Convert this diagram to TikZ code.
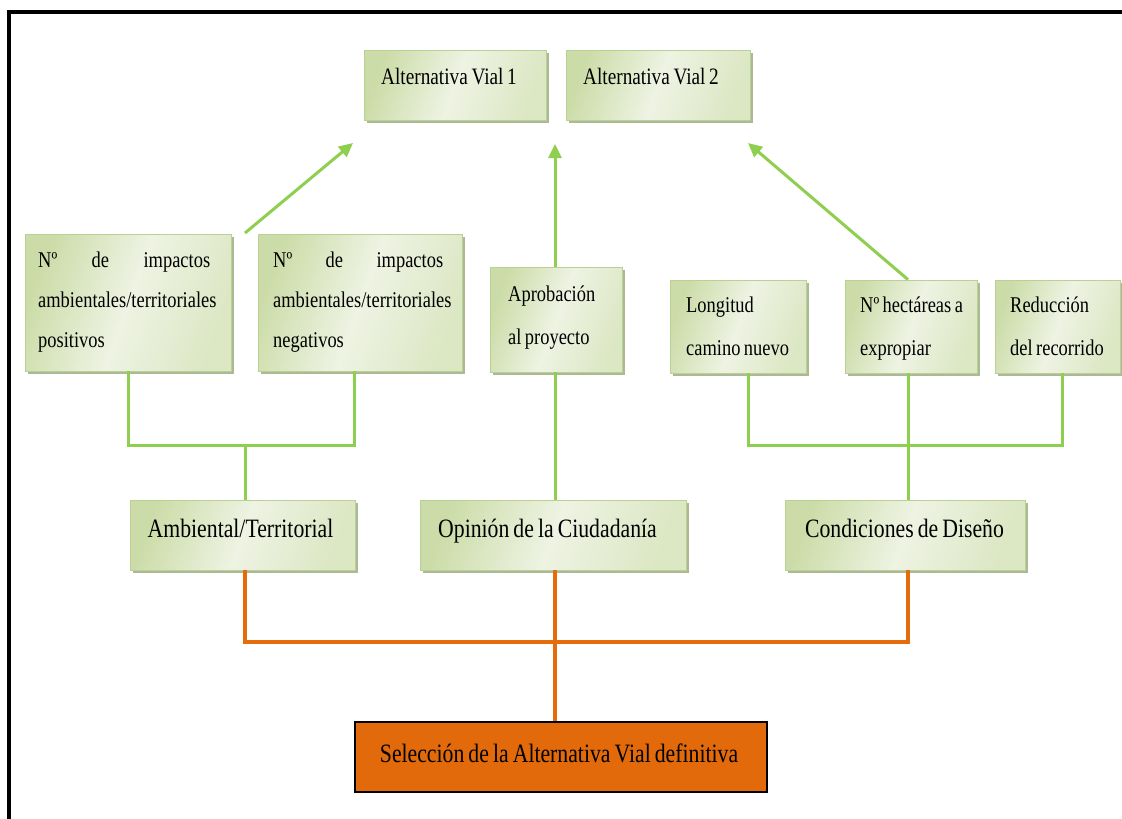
\documentclass[tikz,border=0pt]{standalone}
\usepackage{fontspec}
\setmainfont{Liberation Serif}[FakeStretch=0.82,WordSpace=0.75]
\usetikzlibrary{arrows.meta,shadows}
\definecolor{gline}{HTML}{8FCF4F}
\definecolor{oline}{HTML}{E46C0A}
\definecolor{ofill}{HTML}{E26A0B}
\definecolor{bxA}{HTML}{CCDCA8}
\definecolor{bxB}{HTML}{EEF3E3}
\definecolor{bxC}{HTML}{DCE7C4}
\definecolor{bxedge}{HTML}{BBD093}
\definecolor{shd}{HTML}{A3B28C}
\newcommand\ftop{\fontsize{23.5}{28}\selectfont}
\newcommand\fmid{\fontsize{26.5}{32}\selectfont}
\newcommand\fsmall{\fontsize{22.5}{40}\selectfont}
\newcommand\fsmallb{\fontsize{22.5}{43}\selectfont}
\newcommand\nsp{\spaceskip=0pt\xspaceskip=0pt\relax}
\begin{document}
\begin{tikzpicture}[x=1pt,y=-1pt,
  gbox/.style={draw=bxedge, line width=0.8pt, left color=bxA, right color=bxC, middle color=bxB, shading angle=70,
    drop shadow={shadow xshift=3pt, shadow yshift=-3pt, fill=shd, opacity=0.9}, inner sep=0pt},
  obox/.style={draw=black, line width=1.5pt, fill=ofill, inner sep=0pt},
  txt/.style={inner sep=0pt, anchor=base west, text=black},
  ctxt/.style={inner sep=0pt, anchor=base, text=black},
  gl/.style={draw=gline, line width=3pt},
  ga/.style={draw=gline, line width=3pt, -{Triangle[length=14pt,width=13pt]}},
  ol/.style={draw=oline, line width=4pt},
]
\useasboundingbox (0,0) rectangle (1122,819);
\fill[white] (0,0) rectangle (1122,819);
% frame
\draw[line width=3.5pt] (9,830) -- (9,12) -- (1130,12);

% boxes
\node[gbox, minimum width=182, minimum height=70] (alt1) at (455,85) {};
\node[gbox, minimum width=184, minimum height=70] (alt2) at (658,85) {};
\node[gbox, minimum width=206, minimum height=137] (pos) at (128,302.5) {};
\node[gbox, minimum width=204, minimum height=137] (neg) at (360,302.5) {};
\node[gbox, minimum width=132, minimum height=105] (apr) at (556,319.5) {};
\node[gbox, minimum width=136, minimum height=93] (lon) at (738,326.5) {};
\node[gbox, minimum width=132, minimum height=93] (hec) at (911,326.5) {};
\node[gbox, minimum width=125, minimum height=93] (red) at (1057.5,326.5) {};
\node[gbox, minimum width=225, minimum height=70] (amb) at (242.5,535) {};
\node[gbox, minimum width=266, minimum height=70] (opi) at (553,535) {};
\node[gbox, minimum width=240, minimum height=70] (con) at (905,535) {};
\node[obox, minimum width=412, minimum height=70] (sel) at (561,757) {};

% texts
\node[txt, font=\ftop] (talt1) at (381,84) {Alternativa Vial 1};
\node[txt, font=\ftop] (talt2) at (583,84) {Alternativa Vial 2};
\node[txt, font=\fsmall, text width=174pt, align=left] (tpos) at (38,267)
  {\nsp\makebox[172pt][l]{Nº\hfill de\hfill impactos}\\ambientales/territoriales\\positivos};
\node[txt, font=\fsmall, text width=174pt, align=left] (tneg) at (273,267)
  {\nsp\makebox[170pt][l]{Nº\hfill de\hfill impactos}\\ambientales/territoriales\\negativos};
\node[txt, font=\fsmallb, text width=110pt, align=left] (tapr) at (508,301)
  {\nsp Aprobación\\al proyecto};
\node[txt, font=\fsmallb, text width=120pt, align=left] (tlon) at (686,312)
  {\nsp Longitud\\camino nuevo};
\node[txt, font=\fsmallb, text width=120pt, align=left] (thec) at (860,312)
  {\nsp Nº hectáreas a\\expropiar};
\node[txt, font=\fsmallb, text width=110pt, align=left] (tred) at (1010,312)
  {\nsp Reducción\\del recorrido};
\node[ctxt, font=\fmid] (tamb) at (240.5,537) {Ambiental/Territorial};
\node[ctxt, font=\fmid] (topi) at (547.5,537) {Opinión de la Ciudadanía};
\node[ctxt, font=\fmid] (tcon) at (904.5,537) {Condiciones de Diseño};
\node[ctxt, font=\fmid] (tsel) at (559,762) {Selección de la Alternativa Vial definitiva};

% green connectors, left group
\coordinate (lj1) at (128,445);
\coordinate (lj2) at (354,445);
\coordinate (lj) at (245,445);
\draw[gl] (lj1 |- pos.south) -- (lj1) -- (lj2) -- (lj2 |- neg.south);
\draw[gl] (lj) -- (lj |- amb.north);
% right group
\coordinate (rj1) at (748,445);
\coordinate (rj2) at (1062,445);
\coordinate (rj) at (908,445);
\draw[gl] (rj1 |- lon.south) -- (rj1) -- (rj2) -- (rj2 |- red.south);
\draw[gl] (rj |- hec.south) -- (rj |- con.north);
% middle
\coordinate (mx) at (555,144);
\draw[gl] (mx |- opi.north) -- (mx |- apr.south);
\draw[ga] (mx |- apr.north) -- (mx);
% diagonal arrows
\coordinate (a1s) at (245,233);
\coordinate (a1e) at (353,143);
\draw[ga] (a1s) -- (a1e);
\coordinate (a3e) at (748,143);
\draw[ga] (rj |- hec.north) -- (a3e);

% orange connectors
\coordinate (oj1) at (245,642);
\coordinate (oj2) at (908,642);
\draw[ol] (oj1 |- amb.south) -- (oj1) -- (oj2) -- (oj2 |- con.south);
\draw[ol] (mx |- opi.south) -- (mx |- sel.north);
\end{tikzpicture}
\end{document}
